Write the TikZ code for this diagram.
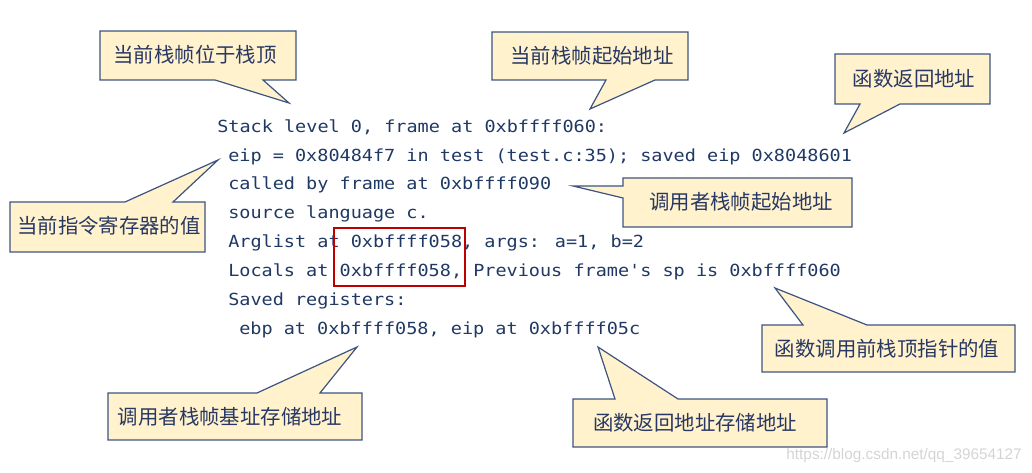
\documentclass[tikz,border=0pt]{standalone}
\usepackage{fontspec}
\newfontfamily\cjk{Noto Sans CJK SC}
\newfontfamily\codefont[FakeStretch=1.11]{DejaVu Sans Mono}
\newfontfamily\wmfont{Liberation Sans}
\definecolor{codeblue}{RGB}{31,56,100}
\definecolor{lblblue}{RGB}{40,56,100}
\definecolor{callfill}{RGB}{255,242,204}
\definecolor{calldraw}{RGB}{60,84,130}
\definecolor{boxred}{RGB}{192,0,0}
\begin{document}
\begin{tikzpicture}[x=0.75pt,y=-0.75pt,
  callout/.style={fill=callfill,draw=calldraw,line width=0.9pt,line join=miter},
  lbl/.style={inner sep=0pt,text=lblblue,font=\cjk\fontsize{15.3pt}{18pt}\selectfont},
  code/.style={inner sep=0pt,anchor=base west,text=codeblue,font=\codefont\fontsize{12.5pt}{14pt}\selectfont},
  hl/.style={draw=boxred,line width=1.5pt}]
\useasboundingbox (0,0) rectangle (1032,473);
% callout shapes
\path[callout] (100,31)--(296,31)--(296,80)--(263,80)--(289,103)--(215,80)--(100,80)--cycle;
\path[callout] (492,32)--(688,32)--(688,80)--(655,80)--(590,109)--(606,80)--(492,80)--cycle;
\path[callout] (835,54)--(990,54)--(990,104)--(900,104)--(844,133)--(860,104)--(835,104)--cycle;
\path[callout] (623,178)--(852,178)--(852,227)--(623,227)--(623,198)--(573,186)--(623,186)--cycle;
\path[callout] (10,202)--(125,202)--(218,160)--(173,202)--(205,202)--(205,252)--(10,252)--cycle;
\path[callout] (762,325)--(803,325)--(775,288)--(867,325)--(1015,325)--(1015,372)--(762,372)--cycle;
\path[callout] (108,393)--(257,393)--(357,347)--(320,393)--(362,393)--(362,440)--(108,440)--cycle;
\path[callout] (573,399)--(615,399)--(598,347)--(678,399)--(827,399)--(827,447)--(573,447)--cycle;
% callout labels
\node[lbl] (c1) at (195,55) {当前栈帧位于栈顶};
\node[lbl] (c2) at (592,56) {当前栈帧起始地址};
\node[lbl] (c3) at (914,79) {函数返回地址};
\node[lbl] (c4) at (741,202) {调用者栈帧起始地址};
\node[lbl] (c5) at (109,226) {当前指令寄存器的值};
\node[lbl] (c6) at (887,349) {函数调用前栈顶指针的值};
\node[lbl] (c7) at (230,417) {调用者栈帧基址存储地址};
\node[lbl] (c8) at (695,423) {函数返回地址存储地址};
% code text
\node[code] (l1) at (217,133) {Stack level 0, frame at 0xbffff060:};
\node[code] (l2) at (228,162) {eip = 0x80484f7 in test (test.c:35); saved eip 0x8048601};
\node[code] (l3) at (228,190) {called by frame at 0xbffff090};
\node[code] (l4) at (228,219) {source language c.};
\node[code] (l5) at (228,248) {Arglist at 0xbffff058, args: a=1, b=2};
\node[code] (l6) at (228,277) {Locals at 0xbffff058, Previous frame's sp is 0xbffff060};
\node[code] (l7) at (228,306) {Saved registers:};
\node[code] (l8) at (239,335) {ebp at 0xbffff058, eip at 0xbffff05c};
% red highlight
\draw[hl] (334,228) rectangle (465,286);
% watermark
\node[inner sep=0pt,anchor=base east,text=black!17,font=\wmfont\fontsize{11.5pt}{13pt}\selectfont] (wm) at (1022,460) {https://blog.csdn.net/qq\_39654127};
\end{tikzpicture}
\end{document}
